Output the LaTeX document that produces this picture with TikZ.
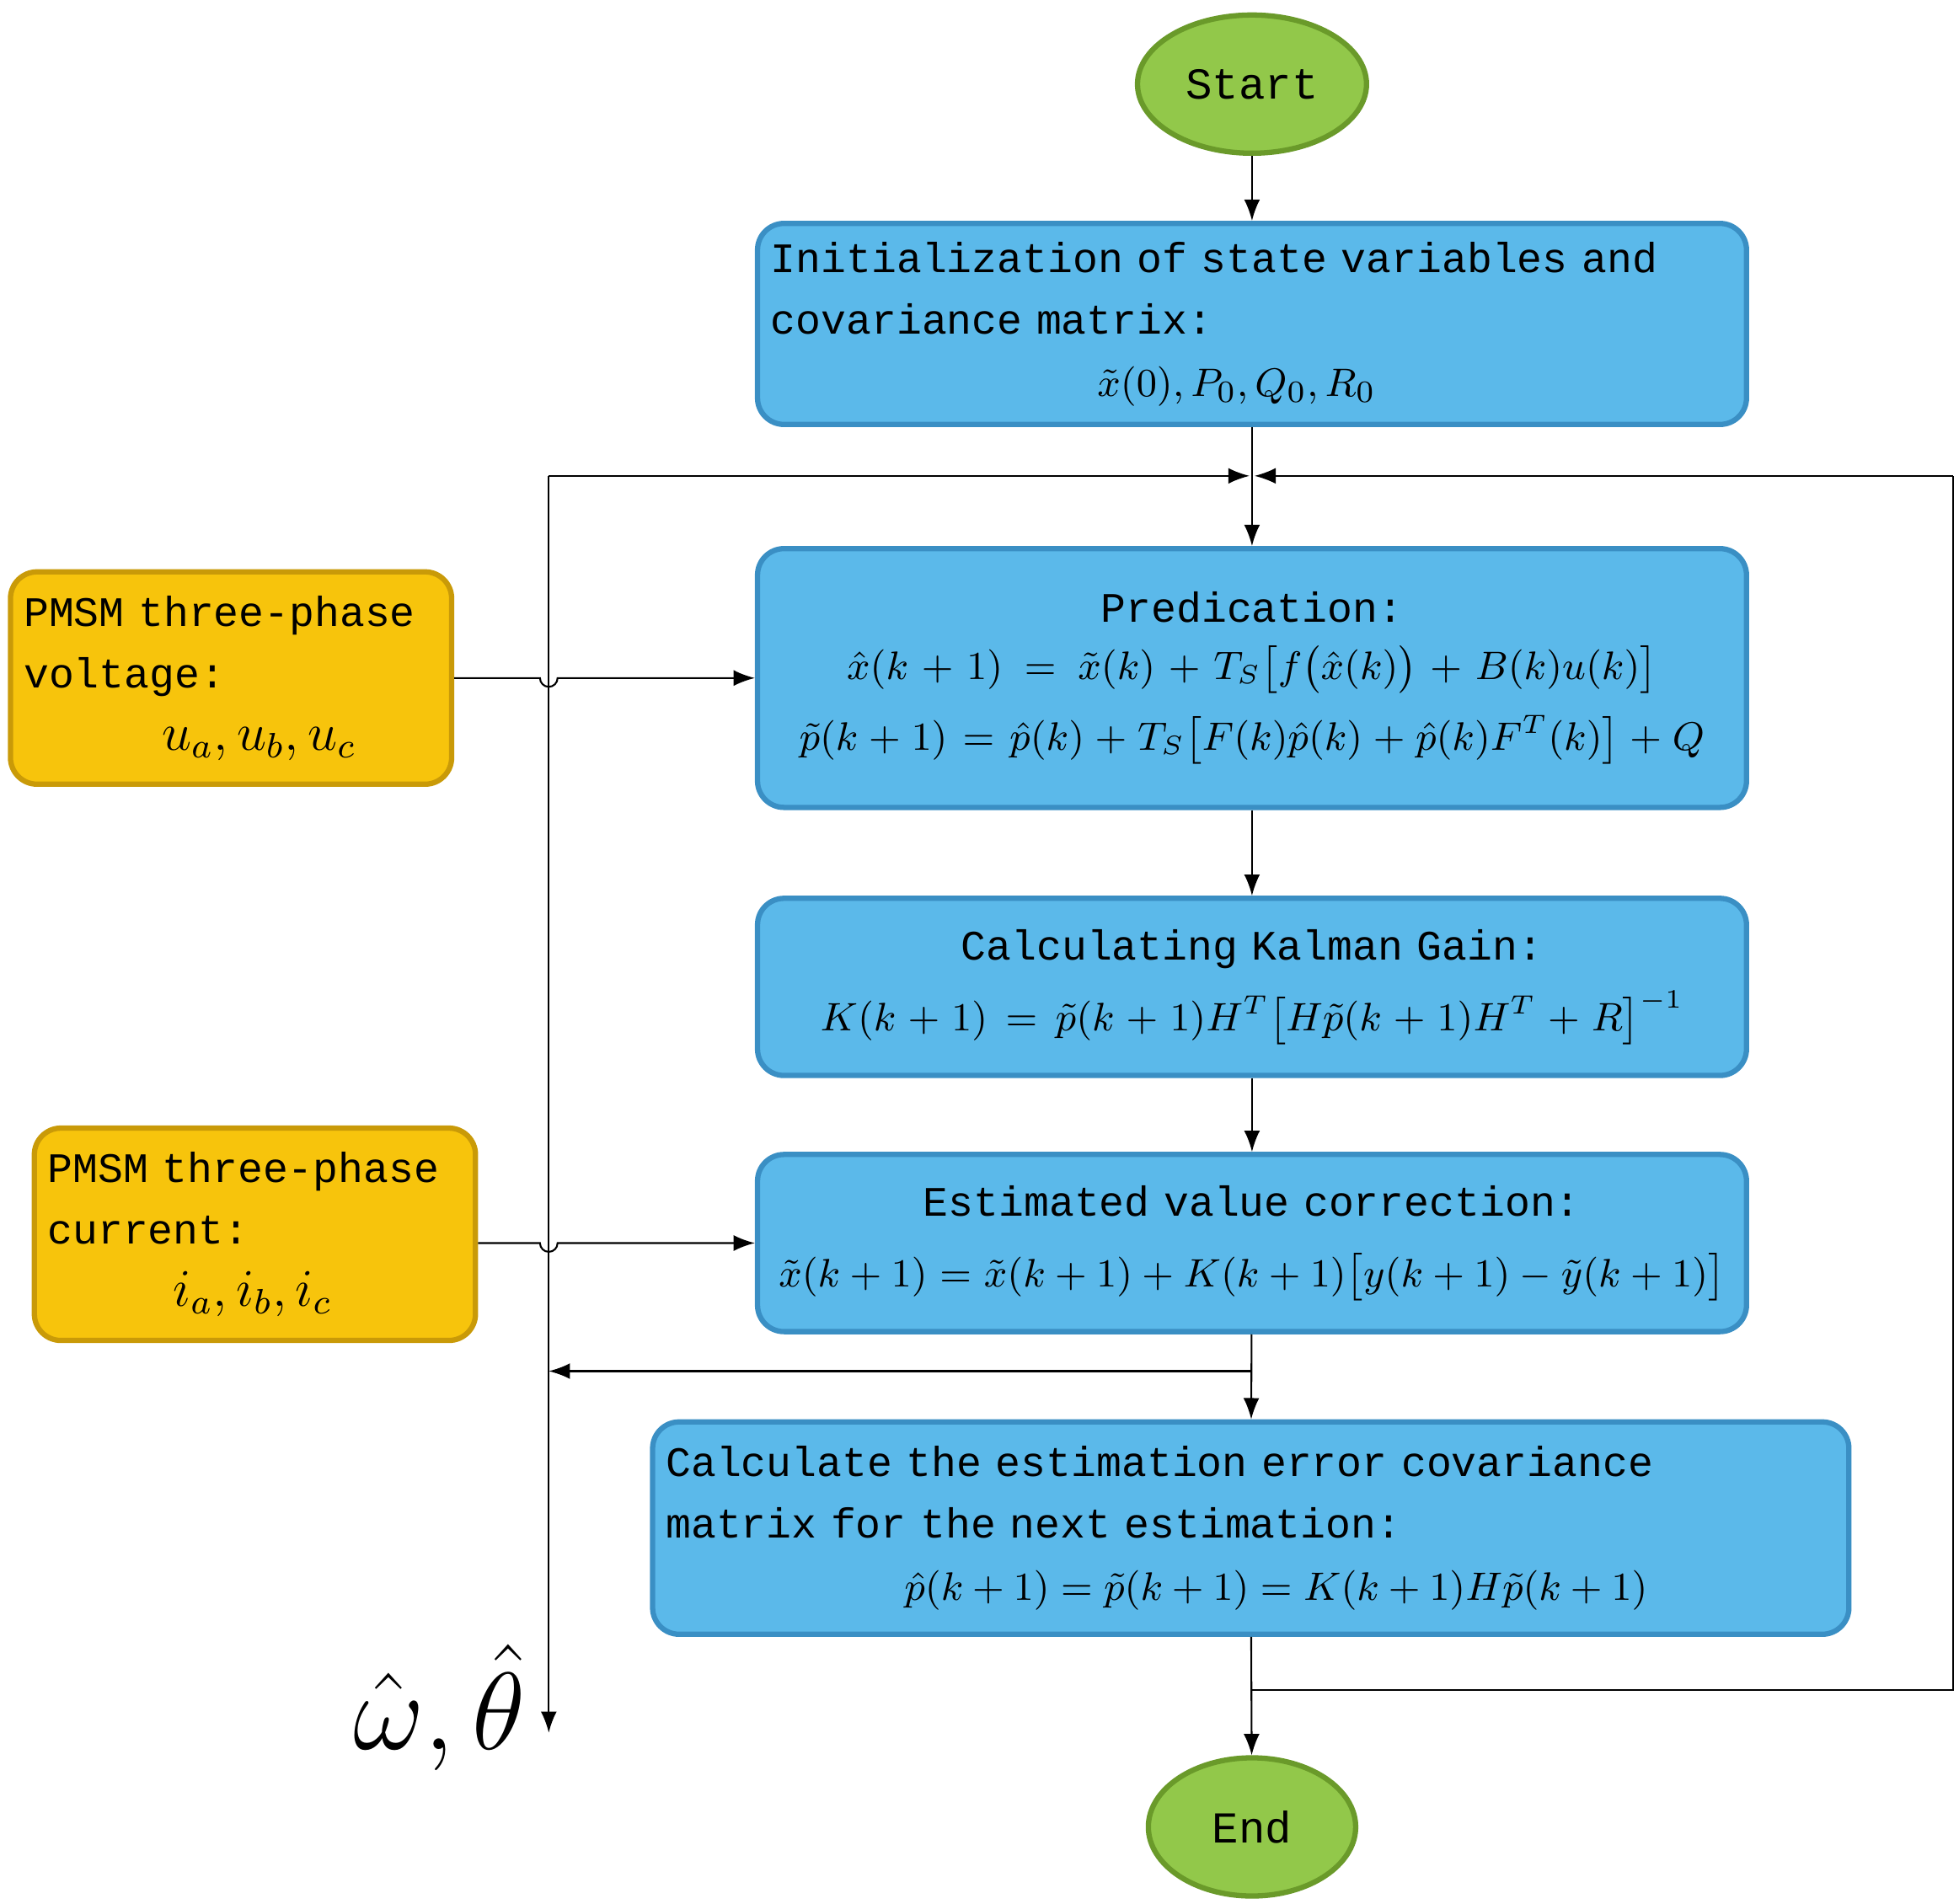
\documentclass[tikz,border=0pt]{standalone}
\usepackage{amsmath}
\usepackage{fontspec}
\setmainfont{Liberation Mono}
\usetikzlibrary{arrows.meta, shapes.geometric, positioning, calc}
\definecolor{boxblue}{HTML}{5BB9EA}
\definecolor{boxedge}{HTML}{3A8FC4}
\definecolor{boxorange}{HTML}{F7C40C}
\definecolor{orangeedge}{HTML}{C99A08}
\definecolor{termgreen}{HTML}{92C84A}
\definecolor{greenedge}{HTML}{6A9A2A}
\tikzset{
        block/.style={draw=boxedge, very thick, fill=boxblue, rounded corners=6pt, text width=7.66cm, minimum height=1.41cm, align=left, inner sep=3pt, font=\fontsize{9.5}{14}\selectfont},
        inblock/.style={draw=orangeedge, very thick, fill=boxorange, rounded corners=6pt, text width=3.3cm, minimum height=1.69cm, align=left, inner sep=3pt, font=\fontsize{9.5}{14}\selectfont},
        term/.style={draw=greenedge, very thick, fill=termgreen, ellipse, minimum width=1.65cm, minimum height=1.1cm, font=\fontsize{10}{14}\selectfont},
        line/.style={-Latex}
    }
\begin{document}
\begin{tikzpicture}[x=0.01cm, y=-0.01cm]
    \useasboundingbox (0,0) rectangle (1560,1516);

    % main column
    \node[term] (start) at (997, 67) {Start};
    \node[block, minimum height=1.6cm] (init) at (997, 258) {Initialization of state variables and\\covariance matrix:\\\hspace*{2.6cm}$\tilde{x}(0),P_0,Q_0,R_0$};
    \node[block, minimum height=2.06cm, align=center] (pred) at (997, 540) {Predication:\\[2pt]
        \small$\hat{x}(k+1)=\tilde{x}(k)+T_S\big[f\big(\hat{x}(k)\big)+B(k)u(k)\big]$\\[2pt]
        \small$\tilde{p}(k+1)=\hat{p}(k)+T_S\big[F(k)\hat{p}(k)+\hat{p}(k)F^T(k)\big]+Q$};
    \node[block, align=center] (gain) at (997, 786) {Calculating Kalman Gain:\\[2pt]
        \small$K(k+1)=\tilde{p}(k+1)H^T\big[H\tilde{p}(k+1)H^T+R\big]^{-1}$};
    \node[block, align=center] (corr) at (997, 990) {Estimated value correction:\\[2pt]
        \small$\tilde{x}(k+1)=\tilde{x}(k+1)+K(k+1)\big[y(k+1)-\tilde{y}(k+1)\big]$};
    \node[block, text width=9.31cm, minimum height=1.69cm] (cov) at (996, 1217) {Calculate the estimation error covariance\\matrix for the next estimation:\\\hspace*{1.9cm}\small$\hat{p}(k+1)=\tilde{p}(k+1)=K(k+1)H\tilde{p}(k+1)$};
    \node[term] (end) at (997, 1455) {End};

    % measured inputs
    \node[inblock] (volt) at (184, 540) {PMSM three-phase\\voltage:\\\hspace*{1.1cm}\large$u_a,u_b,u_c$};
    \node[inblock] (curr) at (203, 983) {PMSM three-phase\\current:\\\hspace*{1.0cm}\large$i_a,i_b,i_c$};
    \node (out) at (350, 1360) {\Huge$\hat{\omega},\hat{\theta}$};

    \coordinate (join) at (997, 379);
    \coordinate (ltop) at (437, 379);
    \coordinate (lbot) at (437, 1380);
    \coordinate (rtop) at (1555, 379);
    \coordinate (rbot) at (1555, 1346);
    \coordinate (cbot) at (997, 1346);
    \coordinate (fb) at (997, 1092);

    % flow connections
    \draw[line] (start) -- (init);
    \draw (init) -- (join);
    \draw[line] (join) -- (pred);
    \draw[line] (pred) -- (gain);
    \draw[line] (gain) -- (corr);
    \draw[line] (corr) -- (cov);
    \draw[line] (cov) -- (end);

    % loops
    \draw[line] (ltop) -- ($(join)+(-2,0)$);
    \draw (cbot) -- (rbot) -- (rtop);
    \draw[line] (rtop) -- ($(join)+(2,0)$);
    \draw[line] (ltop) -- (lbot);
    \draw[line] (fb) -- (437, 1092);

    % inputs with line hops
    \draw[line] (volt.east|-pred) -- (430, 540) arc (180:0:7) -- (pred.west);
    \draw[line] (curr.east|-corr) -- (430, 990) arc (180:0:7) -- (corr.west);
\end{tikzpicture}
\end{document}
